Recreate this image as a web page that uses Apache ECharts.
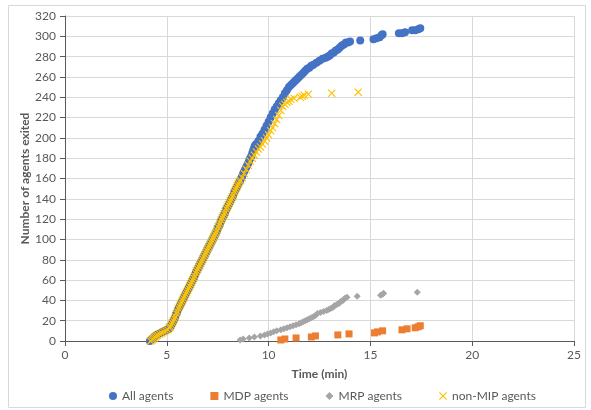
<!DOCTYPE html>
<html>
<head>
<meta charset="utf-8">
<script src="https://cdn.jsdelivr.net/npm/echarts@6/dist/echarts.min.js"></script>
<style>
  html, body { margin: 0; padding: 0; background: #fff; }
  #chart { width: 591px; height: 410px; }
</style>
</head>
<body>
<div id="chart"></div>
<script>
// x = time (min), y = number of agents exited
const allAgents = [
  [4.17,0],[4.25,1],[4.3,2],[4.35,3],[4.4,4],[4.45,5],[4.5,6],[4.6,7],[4.7,8],[4.8,9],[4.9,10],[5.0,11],[5.1,12],
  [5.15,14],[5.2,15],[5.25,17],[5.3,19],[5.35,21],[5.4,23],[5.45,26],[5.5,28],[5.55,31],[5.6,33],[5.65,35],[5.7,37],
  [5.75,39],[5.8,41],[5.85,43],[5.9,45],[5.95,47],[6.0,49],[6.05,51],[6.1,53],[6.15,55],[6.2,57],[6.25,59],[6.3,61],
  [6.35,63],[6.4,66],[6.45,68],[6.5,70],[6.55,72],[6.6,74],[6.65,76],[6.7,78],[6.75,80],[6.8,82],[6.85,84],[6.9,86],
  [6.95,88],[7.0,90],[7.05,92],[7.1,94],[7.15,96],[7.2,98],[7.25,100],[7.3,102],[7.35,104],[7.4,106],[7.45,108],
  [7.5,111],[7.55,113],[7.6,115],[7.65,118],[7.7,120],[7.75,122],[7.8,124],[7.85,126],[7.9,129],[7.95,131],[8.0,133],
  [8.05,135],[8.1,137],[8.15,139],[8.2,141],[8.25,143],[8.3,146],[8.35,148],[8.4,150],[8.45,152],[8.5,154],[8.55,156],
  [8.6,158],[8.65,160],[8.7,162],[8.75,165],[8.8,167],[8.85,169],[8.9,171],[8.95,173],[9.0,175],[9.05,178],[9.1,180],
  [9.15,182],[9.2,185],[9.25,188],[9.3,191],[9.35,193],[9.4,194],[9.5,197],[9.6,201],[9.7,204],[9.8,208],[9.9,212],
  [10.0,216],[10.1,220],[10.2,224],[10.3,228],[10.4,231],[10.5,234],[10.6,237],[10.7,240],[10.8,244],[10.9,247],
  [11.0,250],[11.1,252],[11.2,254],[11.3,256],[11.4,258],[11.5,260],[11.6,262],[11.7,264],[11.8,266],[11.9,268],
  [12.0,269],[12.1,271],[12.2,272],[12.35,274],[12.5,276],[12.65,278],[12.8,279],[12.9,280],[13.0,281],[13.1,283],
  [13.2,284],[13.3,286],[13.4,287],[13.5,289],[13.6,291],[13.7,292],[13.8,294],[13.9,294],[14.0,295],[14.5,296],
  [15.15,297],[15.3,298],[15.45,299],[15.55,301],[15.6,302],[16.4,303],[16.55,303],[16.7,304],[17.05,306],[17.2,306],
  [17.35,307],[17.45,308]
];

const mdpAgents = [
  [10.6,1],[10.8,2],[11.35,3],[12.1,4],[12.3,5],[13.4,6],[13.95,7],[15.2,8],[15.35,9],[15.6,10],
  [16.55,11],[16.8,12],[17.2,13],[17.35,14],[17.45,15]
];

const mrpAgents = [
  [8.6,1],[8.75,2],[9.05,3],[9.3,4],[9.6,5],[9.8,6],[9.95,7],[10.1,8],[10.25,9],[10.4,10],[10.6,11],[10.75,12],
  [10.9,13],[11.05,14],[11.2,15],[11.35,16],[11.5,17],[11.6,18],[11.7,19],[11.8,20],[11.9,21],[12.0,22],[12.1,23],
  [12.2,24],[12.3,25],[12.4,27],[12.55,28],[12.7,29],[12.85,30],[12.95,31],[13.05,32],[13.15,33],[13.2,34],
  [13.25,35],[13.35,36],[13.45,37],[13.5,38],[13.55,39],[13.65,40],[13.7,41],[13.75,42],[13.85,43],[14.35,44],
  [15.5,45],[15.6,46],[15.65,47],[17.3,48]
];

const nonMipAgents = [
  [4.2,0],[4.27,1],[4.32,2],[4.37,3],[4.42,4],[4.48,5],[4.55,6],[4.65,7],[4.75,8],[4.85,9],[4.95,10],[5.05,11],
  [5.12,13],[5.17,14],[5.22,16],[5.27,18],[5.32,20],[5.37,22],[5.42,24],[5.47,27],[5.52,29],[5.57,32],[5.62,34],
  [5.67,36],[5.72,38],[5.77,40],[5.82,42],[5.87,44],[5.92,46],[5.97,48],[6.02,50],[6.07,52],[6.12,54],[6.17,56],
  [6.22,58],[6.27,60],[6.32,62],[6.37,64],[6.42,67],[6.47,69],[6.52,71],[6.57,73],[6.62,75],[6.67,77],[6.72,79],
  [6.77,81],[6.82,83],[6.87,85],[6.92,87],[6.97,89],[7.02,91],[7.07,93],[7.12,95],[7.17,97],[7.22,99],[7.27,101],
  [7.32,103],[7.37,105],[7.42,107],[7.47,109],[7.52,112],[7.57,114],[7.62,116],[7.67,119],[7.72,121],[7.77,123],
  [7.82,125],[7.87,127],[7.92,130],[7.97,132],[8.02,134],[8.07,136],[8.12,138],[8.17,140],[8.22,142],[8.27,144],
  [8.32,147],[8.37,149],[8.42,151],[8.47,153],[8.52,155],[8.57,157],[8.62,158],[8.7,161],[8.8,165],[8.9,169],
  [9.0,173],[9.1,177],[9.2,180],[9.3,183],[9.4,186],[9.5,189],[9.6,191],[9.7,194],[9.8,197],[9.9,200],[10.0,203],
  [10.1,207],[10.2,210],[10.3,214],[10.4,218],[10.5,222],[10.6,227],[10.7,231],[10.8,233],[10.9,235],[11.0,236],
  [11.1,238],[11.25,239],[11.55,240],[11.65,241],[11.75,242],[11.95,243],[13.1,244],[14.4,245]
];

const seriesNames = ['All agents', 'MDP agents', 'MRP agents', 'non-MIP agents'];
const seriesColors = ['#4472C4', '#ED7D31', '#A5A5A5', '#FFC000'];

// cross marker like excel's "x"
const crossPath = 'path://M0,1L1,0L5,4L9,0L10,1L6,5L10,9L9,10L5,6L1,10L0,9L4,5Z';

const textColor = '#595959';
const font = 'Lato, "Open Sans", sans-serif';

let chart = echarts.init(document.getElementById('chart'), null, { renderer: 'canvas' });

let option = {
  animation: false,
  backgroundColor: '#fff',
  textStyle: { fontFamily: font },
  // outer chart border
  graphic: [{
    type: 'rect',
    shape: { x: 8.5, y: 5.5, width: 577, height: 402 },
    style: { fill: 'none', stroke: '#D9D9D9', lineWidth: 1 },
    silent: true
  }],
  grid: { left: 65, right: 17, top: 16, bottom: 69 },
  legend: {
    bottom: 3,
    left: 104,
    itemWidth: 8,
    itemHeight: 8,
    itemGap: 37,
    textStyle: { color: textColor, fontSize: 12, fontFamily: font },
    data: [
      { name: seriesNames[0], icon: 'circle' },
      { name: seriesNames[1], icon: 'rect' },
      { name: seriesNames[2], icon: 'diamond' },
      { name: seriesNames[3], icon: crossPath }
    ]
  },
  xAxis: {
    type: 'value',
    min: 0,
    max: 25,
    interval: 5,
    name: 'Time (min)',
    nameLocation: 'middle',
    nameGap: 27,
    nameTextStyle: { color: textColor, fontSize: 12, fontWeight: 'bold', fontFamily: font },
    axisLine: { show: true, lineStyle: { color: '#595959', width: 1 } },
    axisTick: { show: true, length: 5, inside: false, lineStyle: { color: '#595959' } },
    axisLabel: { color: textColor, fontSize: 12, margin: 8 },
    splitLine: { show: true, lineStyle: { color: '#D9D9D9', width: 1 } }
  },
  yAxis: {
    type: 'value',
    min: 0,
    max: 320,
    interval: 20,
    name: 'Number of agents exited',
    nameLocation: 'middle',
    nameGap: 34,
    nameMoveOverlap: false,
    nameTextStyle: { color: textColor, fontSize: 12, fontWeight: 'bold', fontFamily: font },
    axisLine: { show: true, lineStyle: { color: '#595959', width: 1 } },
    axisTick: { show: true, length: 5, lineStyle: { color: '#595959' } },
    axisLabel: { color: textColor, fontSize: 12, margin: 9 },
    splitLine: { show: true, lineStyle: { color: '#D9D9D9', width: 1 } }
  },
  series: [
    {
      name: seriesNames[0],
      type: 'scatter',
      data: allAgents,
      symbol: 'circle',
      symbolSize: 8,
      itemStyle: { color: seriesColors[0], opacity: 1 }
    },
    {
      name: seriesNames[1],
      type: 'scatter',
      data: mdpAgents,
      symbol: 'rect',
      symbolSize: 7,
      itemStyle: { color: seriesColors[1], opacity: 1 }
    },
    {
      name: seriesNames[2],
      type: 'scatter',
      data: mrpAgents,
      symbol: 'diamond',
      symbolSize: 7,
      itemStyle: { color: seriesColors[2], opacity: 1 }
    },
    {
      name: seriesNames[3],
      type: 'scatter',
      data: nonMipAgents,
      symbol: crossPath,
      symbolSize: 8,
      itemStyle: { color: seriesColors[3], opacity: 1 }
    }
  ]
};

chart.setOption(option);
</script>
</body>
</html>
